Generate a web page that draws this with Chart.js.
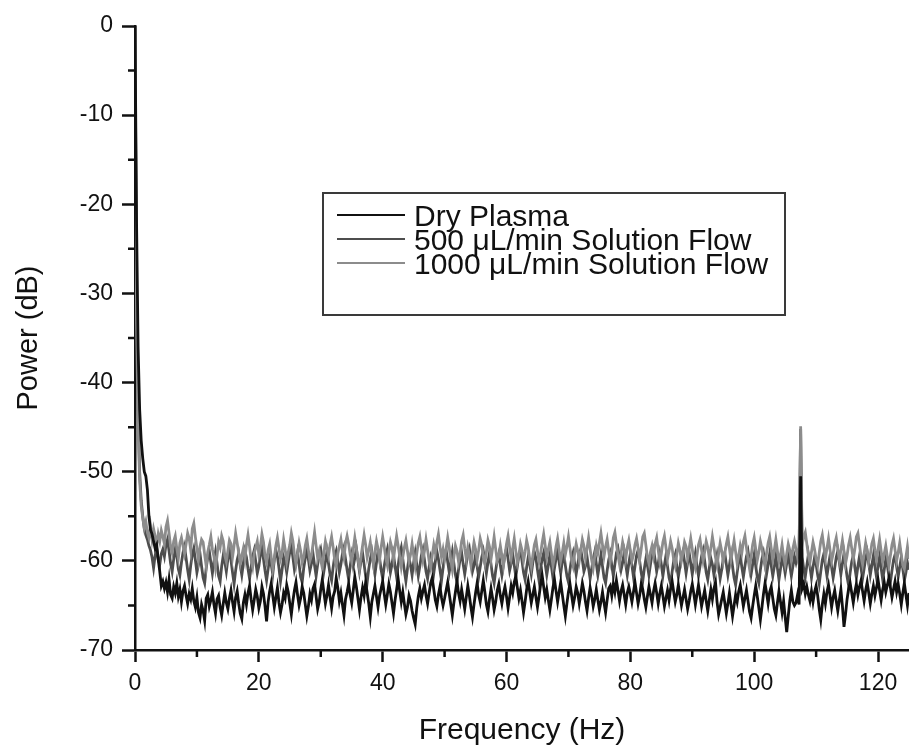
<!DOCTYPE html>
<html>
<head>
<meta charset="utf-8">
<script src="https://cdn.jsdelivr.net/npm/chart.js@4.4.1/dist/chart.umd.min.js"></script>
<style>
  html, body { margin: 0; padding: 0; background: #fff; }
  #wrap { width: 909px; height: 747px; }
</style>
</head>
<body>
<div id="wrap"><canvas id="spectrum"></canvas></div>
<script>
// spectra sampled every 0.25 Hz from 0 to 125 Hz
const FREQ_STEP = 0.25;

const seriesLabels = [
  'Dry Plasma',
  '500 \u03bcL/min Solution Flow',
  '1000 \u03bcL/min Solution Flow'
];

const dryPlasma = [
  0, -22, -36, -43, -46.5, -48.5, -50, -50.5, -52, -55, -56.5, -57, -57.8, -58.6, -58.2, -59.8, -61.2, -62.8, -62.3, -63.1,
  -62.4, -63.5, -62.1, -63.8, -64.2, -62.9, -63.6, -62.5, -64.0, -63.2, -64.6, -63.4, -62.8, -63.9, -64.8, -63.7, -64.3, -63.1, -64.5, -65.2,
  -64.1, -65.8, -66.4, -64.9, -65.6, -66.7, -64.2, -63.8, -65.1, -64.4, -63.5, -64.9, -65.9, -64.3, -63.9, -65.2, -66.1, -64.8, -63.6, -64.7,
  -65.4, -64.2, -63.3, -64.6, -65.7, -64.1, -63.4, -64.8, -65.9, -66.5, -64.7, -63.8, -64.9, -63.6, -62.8, -64.3, -65.5, -64.4, -63.2, -64.0,
  -65.3, -64.5, -62.9, -63.7, -65.1, -66.8, -64.6, -63.4, -62.5, -63.9, -65.2, -64.1, -63.0, -64.7, -65.8, -64.9, -63.6, -64.2, -62.7, -63.5,
  -64.8, -66.0, -64.5, -63.3, -62.4, -63.8, -65.0, -64.2, -62.9, -63.6, -64.9, -66.2, -65.1, -63.7, -64.4, -63.1, -62.6, -64.0, -65.4, -64.6,
  -63.2, -62.1, -63.5, -64.8, -63.9, -62.7, -64.1, -65.3, -64.0, -63.4, -61.9, -63.0, -64.5, -63.6, -64.9, -66.1, -64.3, -63.5, -62.6, -63.8,
  -64.7, -63.3, -61.8, -62.9, -64.2, -65.5, -64.1, -63.0, -63.9, -62.4, -63.6, -64.8, -66.3, -64.6, -63.7, -62.8, -64.0, -65.2, -63.9, -63.1,
  -62.3, -63.7, -64.9, -63.8, -62.6, -63.5, -64.7, -65.9, -64.4, -63.2, -62.0, -63.4, -64.6, -63.5, -64.8, -66.0, -65.2, -63.9, -64.5, -65.6,
  -66.4, -67.1, -65.3, -64.0, -63.1, -64.2, -63.4, -62.7, -63.9, -64.8, -63.6, -62.5, -61.9, -63.2, -64.4, -65.1, -63.8, -62.9, -64.1, -65.0,
  -64.2, -63.3, -62.4, -63.7, -64.9, -66.1, -64.7, -63.5, -62.3, -63.6, -64.5, -63.2, -64.3, -65.4, -64.1, -62.8, -63.9, -65.2, -66.3, -64.9,
  -63.6, -62.5, -63.8, -64.6, -63.4, -62.2, -63.5, -64.9, -65.7, -64.3, -63.1, -64.2, -65.5, -64.6, -63.3, -62.6, -63.9, -64.8, -63.7, -62.9,
  -64.0, -65.3, -64.1, -62.8, -63.6, -62.4, -61.7, -63.0, -64.2, -63.3, -64.5, -65.8, -64.6, -63.2, -62.3, -63.5, -64.7, -63.8, -62.9, -64.1,
  -65.2, -64.0, -62.7, -61.6, -62.9, -64.1, -63.2, -64.4, -65.5, -64.3, -63.0, -62.1, -63.4, -64.6, -63.5, -62.4, -63.7, -65.0, -66.2, -64.8,
  -63.5, -62.6, -63.8, -65.0, -64.1, -62.9, -63.6, -64.8, -63.7, -62.5, -63.4, -64.6, -65.6, -64.2, -63.0, -63.9, -65.1, -64.3, -63.2, -64.4,
  -65.5, -64.6, -63.5, -64.7, -65.8, -64.4, -63.1, -62.8, -63.9, -62.6, -63.5, -62.2, -63.3, -64.5, -63.4, -62.7, -63.8, -64.9, -63.6, -62.9,
  -63.7, -64.6, -63.5, -62.4, -63.6, -64.8, -63.9, -62.6, -63.2, -64.3, -65.2, -64.0, -62.9, -63.8, -64.7, -63.4, -62.5, -63.6, -64.8, -63.7,
  -62.8, -63.9, -65.1, -64.2, -63.3, -64.4, -63.1, -62.3, -63.5, -64.6, -63.8, -62.7, -63.9, -65.0, -64.1, -63.2, -64.3, -65.4, -64.5, -63.4,
  -62.6, -63.7, -64.9, -63.8, -62.7, -63.9, -65.1, -64.2, -63.3, -64.5, -65.6, -64.4, -63.2, -64.3, -63.1, -62.4, -64.6, -66.0, -65.2, -64.3,
  -63.5, -64.7, -65.9, -64.8, -63.6, -64.9, -66.2, -65.0, -63.8, -64.6, -63.4, -62.7, -63.9, -65.1, -64.2, -63.3, -64.5, -65.7, -66.4, -65.1,
  -63.9, -62.8, -64.0, -65.3, -66.6, -65.2, -63.7, -62.5, -63.6, -64.8, -63.5, -62.9, -64.2, -65.4, -66.1, -64.7, -63.4, -64.6, -65.8, -64.5,
  -66.3, -68.0, -66.2, -64.5, -63.3, -64.6, -65.0, -64.7, -63.8, -64.9, -50.5, -63.1, -62.6, -63.7, -62.9, -63.8, -64.5, -63.4, -64.6, -63.5,
  -62.8, -63.9, -65.4, -66.6, -64.9, -63.7, -64.8, -63.5, -62.7, -63.9, -65.2, -64.1, -63.3, -64.5, -65.6, -64.4, -63.2, -65.1, -67.4, -66.0,
  -64.3, -63.1, -62.5, -63.6, -64.7, -63.5, -62.6, -63.8, -62.9, -62.2, -63.4, -64.5, -63.3, -62.4, -63.6, -64.8, -63.7, -62.8, -63.9, -63.0,
  -62.1, -63.3, -64.4, -63.2, -62.4, -63.5, -62.7, -61.9, -63.0, -64.1, -63.2, -62.3, -63.5, -62.6, -63.7, -64.9, -63.6, -62.5, -63.8, -65.0,
  -63.6
];

const flow500 = [
  0, -30, -43, -50, -53.2, -55.0, -56.4, -57.1, -57.6, -58.3, -58.8, -59.6, -60.8, -59.4, -58.6, -59.9, -60.4, -59.2, -58.7, -59.5,
  -58.2, -57.6, -58.9, -60.3, -61.2, -59.8, -58.7, -59.4, -60.9, -61.6, -60.2, -59.1, -58.4, -59.7, -61.0, -62.1, -60.5, -59.3, -58.6, -59.9,
  -61.3, -60.4, -59.2, -60.6, -61.9, -62.5, -60.8, -59.6, -58.9, -60.2, -61.4, -60.1, -59.0, -60.3, -61.7, -62.3, -60.6, -59.4, -60.1, -61.2,
  -59.8, -58.7, -59.9, -61.3, -62.6, -61.1, -59.9, -59.2, -60.5, -61.6, -60.3, -58.9, -59.6, -60.9, -62.0, -60.7, -59.5, -58.8, -60.1, -61.4,
  -60.6, -59.3, -58.6, -59.8, -61.1, -62.2, -60.9, -59.7, -60.4, -61.5, -59.9, -58.8, -59.5, -60.8, -62.3, -61.0, -59.6, -60.2, -61.3, -60.1,
  -59.0, -58.3, -59.6, -61.0, -60.2, -59.1, -60.4, -61.8, -62.4, -60.8, -59.7, -58.6, -59.8, -61.1, -60.3, -59.2, -60.5, -61.7, -60.4, -59.3,
  -58.7, -59.9, -61.2, -60.1, -59.0, -60.3, -61.5, -62.2, -60.7, -59.5, -58.9, -60.0, -61.3, -60.4, -59.2, -58.5, -59.8, -61.0, -62.1, -60.6,
  -59.4, -60.6, -59.7, -58.6, -59.9, -61.2, -60.0, -59.1, -60.4, -61.7, -62.4, -60.9, -59.8, -59.0, -60.3, -61.5, -60.2, -58.9, -59.7, -61.0,
  -62.0, -60.6, -59.5, -58.7, -60.0, -61.3, -60.4, -59.3, -60.6, -61.8, -60.5, -59.2, -58.5, -59.8, -61.1, -62.3, -60.9, -59.7, -60.5, -61.6,
  -60.2, -59.1, -60.4, -61.7, -60.6, -59.4, -58.7, -59.9, -61.2, -62.0, -60.7, -59.6, -60.3, -61.4, -60.1, -58.9, -59.8, -61.0, -62.2, -60.8,
  -59.5, -58.8, -60.1, -61.3, -60.2, -59.0, -60.3, -61.6, -62.4, -61.0, -59.8, -59.1, -60.4, -61.5, -60.3, -59.2, -58.6, -59.9, -61.2, -60.5,
  -59.3, -60.6, -61.8, -60.7, -59.6, -58.9, -60.1, -61.4, -60.2, -59.1, -60.4, -61.7, -62.5, -61.1, -59.9, -59.2, -60.5, -61.6, -60.4, -59.3,
  -58.6, -59.8, -61.1, -60.3, -59.2, -60.5, -61.8, -60.6, -59.4, -58.8, -60.0, -61.3, -62.1, -60.7, -59.6, -60.4, -61.5, -60.2, -59.0, -59.7,
  -61.0, -62.2, -60.9, -59.8, -59.1, -60.4, -61.6, -60.5, -59.3, -60.6, -61.9, -60.8, -59.7, -58.9, -60.2, -61.4, -60.1, -59.2, -60.5, -61.7,
  -62.4, -61.0, -59.8, -59.1, -60.3, -61.5, -60.4, -59.3, -58.7, -59.9, -61.2, -60.6, -59.5, -60.8, -62.0, -60.9, -59.8, -59.0, -60.3, -61.6,
  -60.5, -59.3, -60.6, -61.9, -62.5, -61.1, -59.9, -59.2, -60.5, -61.7, -60.4, -59.1, -58.6, -59.8, -61.0, -60.2, -59.1, -60.4, -61.6, -60.3,
  -59.2, -60.5, -61.8, -60.6, -59.4, -58.8, -60.0, -61.3, -62.3, -60.9, -59.8, -60.5, -61.6, -60.4, -59.3, -58.7, -59.9, -61.2, -60.3, -59.2,
  -60.4, -61.7, -60.5, -59.4, -60.6, -61.9, -62.6, -61.2, -60.0, -59.3, -60.6, -61.8, -60.7, -59.5, -58.9, -60.1, -61.4, -60.2, -59.1, -60.3,
  -61.5, -60.3, -59.2, -60.5, -61.7, -60.6, -59.5, -58.8, -60.0, -61.3, -62.1, -60.8, -59.7, -60.4, -61.6, -60.5, -59.4, -60.7, -62.0, -61.0,
  -59.8, -59.1, -60.4, -61.6, -60.5, -59.3, -60.6, -61.9, -62.7, -61.3, -60.1, -59.4, -60.7, -61.8, -60.6, -59.5, -58.9, -60.2, -61.5, -60.4,
  -59.3, -60.6, -61.8, -62.5, -61.0, -59.8, -59.1, -60.3, -61.5, -60.4, -59.2, -60.5, -61.7, -60.6, -59.5, -60.8, -62.1, -60.9, -59.7, -60.3,
  -61.4, -60.3, -59.2, -60.5, -61.7, -60.6, -59.5, -60.2, -59.4, -58.9, -45.2, -59.6, -60.9, -61.8, -60.5, -59.3, -60.6, -61.9, -60.7, -59.6,
  -60.4, -61.6, -62.6, -61.2, -59.9, -59.2, -60.5, -61.7, -60.5, -59.4, -60.7, -61.9, -60.8, -59.6, -58.9, -60.2, -61.5, -60.3, -59.2, -60.5,
  -61.8, -62.8, -61.3, -60.1, -59.4, -60.7, -61.9, -60.6, -59.5, -60.8, -62.0, -60.9, -59.7, -59.0, -60.3, -61.6, -60.5, -59.4, -60.6, -61.8,
  -60.6, -59.5, -60.8, -62.1, -61.0, -59.8, -60.5, -61.7, -62.4, -61.1, -59.9, -59.3, -60.6, -61.8, -60.7, -59.6, -60.9, -62.2, -61.3, -60.2,
  -61.0
];

const flow1000 = [
  0, -33, -45, -51, -53.8, -55.2, -56.3, -55.6, -56.8, -57.4, -56.1, -57.6, -56.4, -57.2, -58.3, -57.0, -57.8, -56.6, -57.3, -58.1,
  -56.2, -55.5, -56.9, -58.4, -59.1, -57.8, -57.2, -58.6, -59.7, -58.0, -57.4, -58.3, -59.2, -58.1, -56.9, -57.5, -58.8, -56.4, -55.8, -57.3,
  -58.6, -59.9, -58.4, -57.6, -57.9, -59.3, -60.6, -59.0, -58.2, -57.3, -58.7, -59.5, -60.8, -59.4, -57.9, -58.5, -57.2, -57.8, -59.4, -60.1,
  -58.9, -57.7, -58.1, -59.6, -58.3, -56.9, -58.0, -59.1, -60.3, -59.4, -58.6, -59.8, -58.2, -57.1, -58.4, -59.9, -60.7, -59.2, -58.5, -57.8,
  -59.3, -58.4, -57.0, -57.9, -59.5, -60.2, -58.8, -58.1, -59.6, -60.9, -59.7, -58.3, -57.4, -58.6, -59.8, -59.1, -57.6, -58.7, -60.1, -59.0,
  -58.2, -56.9, -57.8, -59.3, -60.4, -59.2, -58.0, -58.9, -60.2, -59.6, -58.3, -57.5, -58.8, -60.0, -59.4, -58.1, -56.8, -58.3, -59.7, -58.9,
  -59.9, -60.8, -59.1, -57.8, -58.6, -59.4, -58.2, -57.3, -58.5, -59.9, -60.6, -59.2, -58.4, -57.6, -58.9, -59.7, -58.0, -57.2, -58.1, -59.3,
  -60.1, -58.7, -57.4, -58.6, -59.8, -60.9, -59.5, -58.3, -57.1, -58.2, -59.6, -58.8, -57.9, -59.2, -60.4, -59.0, -57.8, -58.7, -59.9, -58.5,
  -57.3, -58.4, -59.7, -60.5, -59.0, -57.9, -58.6, -59.8, -58.4, -57.2, -58.3, -59.5, -60.7, -59.6, -58.5, -57.7, -58.9, -60.1, -59.3, -58.1,
  -59.4, -60.6, -59.2, -58.0, -57.3, -58.6, -59.9, -58.9, -57.6, -58.8, -60.0, -60.8, -59.4, -58.2, -59.1, -57.9, -57.0, -58.4, -59.6, -58.7,
  -59.8, -58.6, -57.4, -58.5, -59.9, -61.0, -59.6, -58.3, -58.9, -60.1, -59.2, -57.8, -57.1, -58.6, -59.8, -58.5, -59.4, -60.5, -59.1, -57.9,
  -58.7, -59.9, -58.8, -57.5, -58.2, -59.6, -60.3, -59.0, -57.7, -58.4, -59.8, -58.6, -57.3, -58.7, -60.0, -59.5, -58.3, -59.4, -60.6, -59.3,
  -58.1, -57.2, -58.5, -59.7, -58.6, -57.5, -58.9, -60.2, -59.3, -58.1, -58.8, -60.0, -59.0, -57.7, -58.5, -59.8, -60.7, -59.4, -58.2, -57.6,
  -58.9, -60.1, -59.2, -58.0, -57.0, -58.3, -59.6, -58.7, -57.9, -59.2, -60.5, -59.6, -58.4, -57.5, -58.8, -60.0, -59.1, -58.0, -59.3, -58.4,
  -57.3, -58.6, -59.9, -60.6, -59.2, -58.1, -58.9, -60.0, -58.8, -57.6, -58.3, -59.7, -58.6, -57.4, -58.7, -59.9, -60.8, -59.5, -58.3, -59.1,
  -58.0, -56.9, -58.2, -59.5, -58.4, -57.6, -58.9, -60.1, -59.0, -57.4, -56.8, -58.1, -59.4, -60.4, -59.1, -57.9, -58.7, -59.8, -58.5, -57.7,
  -58.9, -60.0, -59.3, -58.2, -57.5, -58.6, -59.9, -58.7, -57.3, -56.9, -58.2, -59.6, -60.3, -59.0, -58.3, -59.4, -58.1, -57.4, -58.8, -60.1,
  -59.2, -57.9, -57.2, -58.5, -59.8, -58.9, -57.8, -58.6, -59.9, -60.6, -59.3, -58.0, -58.8, -60.0, -59.1, -57.9, -58.4, -59.7, -58.6, -57.5,
  -58.7, -59.9, -60.7, -59.4, -58.2, -57.6, -58.8, -60.0, -59.0, -57.8, -58.5, -59.7, -58.6, -57.3, -58.4, -59.6, -60.5, -59.2, -58.0, -58.9,
  -60.1, -59.2, -58.1, -57.3, -58.6, -59.9, -58.8, -57.7, -59.0, -60.3, -59.4, -58.3, -59.1, -57.9, -57.2, -58.5, -59.8, -60.9, -59.5, -58.2,
  -57.4, -58.7, -59.9, -59.0, -57.8, -58.6, -59.8, -60.6, -59.1, -58.0, -57.3, -58.6, -59.9, -58.8, -57.6, -58.9, -60.1, -59.3, -58.2, -59.5,
  -60.4, -59.2, -58.1, -58.8, -59.9, -58.6, -57.8, -58.7, -59.6, -58.4, -44.9, -58.2, -57.3, -56.8, -58.1, -59.4, -60.2, -59.0, -57.9, -58.7,
  -59.8, -60.5, -59.1, -57.8, -57.1, -58.4, -59.7, -58.6, -57.5, -58.8, -60.0, -59.2, -58.1, -57.4, -58.7, -59.9, -58.8, -57.7, -58.9, -60.3,
  -59.4, -58.2, -57.4, -58.6, -59.8, -58.7, -57.3, -56.9, -58.2, -59.5, -60.4, -59.2, -58.0, -58.9, -60.1, -59.3, -58.1, -57.5, -58.8, -59.9,
  -58.7, -57.6, -58.9, -60.1, -59.2, -58.3, -59.5, -60.6, -59.4, -58.2, -57.5, -58.8, -60.0, -59.1, -58.0, -59.3, -60.5, -60.9, -59.6, -58.4,
  -59.8
];

const seriesValues = [dryPlasma, flow500, flow1000];
const seriesColors = ['#111111', '#4e4e4e', '#8c8c8c'];
// black on top, then the 1000 trace, the 500 trace underneath
const seriesOrder = [0, 2, 1];

const xMajorTicks = [0, 20, 40, 60, 80, 100, 120];
const xMinorTicks = [10, 30, 50, 70, 90, 110];
const yMajorTicks = [0, -10, -20, -30, -40, -50, -60, -70];
const yMinorTicks = [-5, -15, -25, -35, -45, -55, -65];

const FONT = '"Liberation Sans", Arial, Helvetica, sans-serif';
const INK = '#111111';

function toPoints(values) {
  return values.map((v, i) => ({ x: i * FREQ_STEP, y: v }));
}

// short outward minor ticks between the labelled ones
const minorTickPlugin = {
  id: 'minorTicks',
  afterDraw(chart) {
    const { ctx, scales: { x, y } } = chart;
    ctx.save();
    ctx.strokeStyle = INK;
    ctx.lineWidth = 2.5;
    ctx.beginPath();
    xMinorTicks.forEach(v => {
      const px = x.getPixelForValue(v);
      ctx.moveTo(px, x.top);
      ctx.lineTo(px, x.top + 7);
    });
    yMinorTicks.forEach(v => {
      const py = y.getPixelForValue(v);
      ctx.moveTo(y.right - 7, py);
      ctx.lineTo(y.right, py);
    });
    ctx.stroke();
    ctx.restore();
  }
};

// boxed legend inside the plot
const boxLegendPlugin = {
  id: 'boxLegend',
  afterDraw(chart) {
    const { ctx } = chart;
    const box = { left: 323, top: 193, right: 785, bottom: 315 };
    const rowY = [215, 239, 263];
    ctx.save();
    ctx.strokeStyle = '#3a3a3a';
    ctx.lineWidth = 2;
    ctx.strokeRect(box.left, box.top, box.right - box.left, box.bottom - box.top);
    ctx.font = '30px ' + FONT;
    ctx.textBaseline = 'alphabetic';
    ctx.textAlign = 'left';
    chart.data.datasets.forEach((ds, i) => {
      ctx.strokeStyle = ds.borderColor;
      ctx.lineWidth = 2;
      ctx.beginPath();
      ctx.moveTo(337, rowY[i]);
      ctx.lineTo(405, rowY[i]);
      ctx.stroke();
      ctx.fillStyle = INK;
      ctx.fillText(ds.label, 414, rowY[i] + 10.5);
    });
    ctx.restore();
  }
};

new Chart(document.getElementById('spectrum'), {
  type: 'line',
  data: {
    datasets: seriesValues.map((vals, i) => ({
      label: seriesLabels[i],
      data: toPoints(vals),
      borderColor: seriesColors[i],
      borderWidth: 2.8,
      pointRadius: 0,
      tension: 0,
      fill: false,
      order: seriesOrder[i]
    }))
  },
  options: {
    responsive: true,
    maintainAspectRatio: false,
    animation: false,
    devicePixelRatio: 1,
    layout: { padding: { top: 26, right: 0, left: 0, bottom: 0 } },
    plugins: {
      legend: { display: false },
      tooltip: { enabled: false }
    },
    scales: {
      x: {
        type: 'linear',
        min: 0,
        max: 125,
        afterBuildTicks: s => { s.ticks = xMajorTicks.map(v => ({ value: v })); },
        afterFit: s => { s.height = 97; },
        border: { color: INK, width: 2.5 },
        grid: { drawOnChartArea: false, tickLength: 12, tickWidth: 2.5, tickColor: INK },
        ticks: { color: INK, font: { family: FONT, size: 23 }, padding: 8, maxRotation: 0 },
        title: {
          display: true,
          text: 'Frequency (Hz)',
          color: INK,
          font: { family: FONT, size: 30 },
          padding: { top: 0, bottom: -2 }
        }
      },
      y: {
        type: 'linear',
        min: -70,
        max: 0,
        afterBuildTicks: s => { s.ticks = yMajorTicks.map(v => ({ value: v })); },
        afterFit: s => { s.width = 135; },
        border: { color: INK, width: 2.5 },
        grid: { drawOnChartArea: false, tickLength: 13, tickWidth: 2.5, tickColor: INK },
        ticks: { color: INK, font: { family: FONT, size: 23 }, padding: 9 },
        title: {
          display: true,
          text: 'Power (dB)',
          color: INK,
          font: { family: FONT, size: 29 },
          padding: { top: 12, bottom: 10 }
        }
      }
    }
  },
  plugins: [minorTickPlugin, boxLegendPlugin]
});
</script>
</body>
</html>
